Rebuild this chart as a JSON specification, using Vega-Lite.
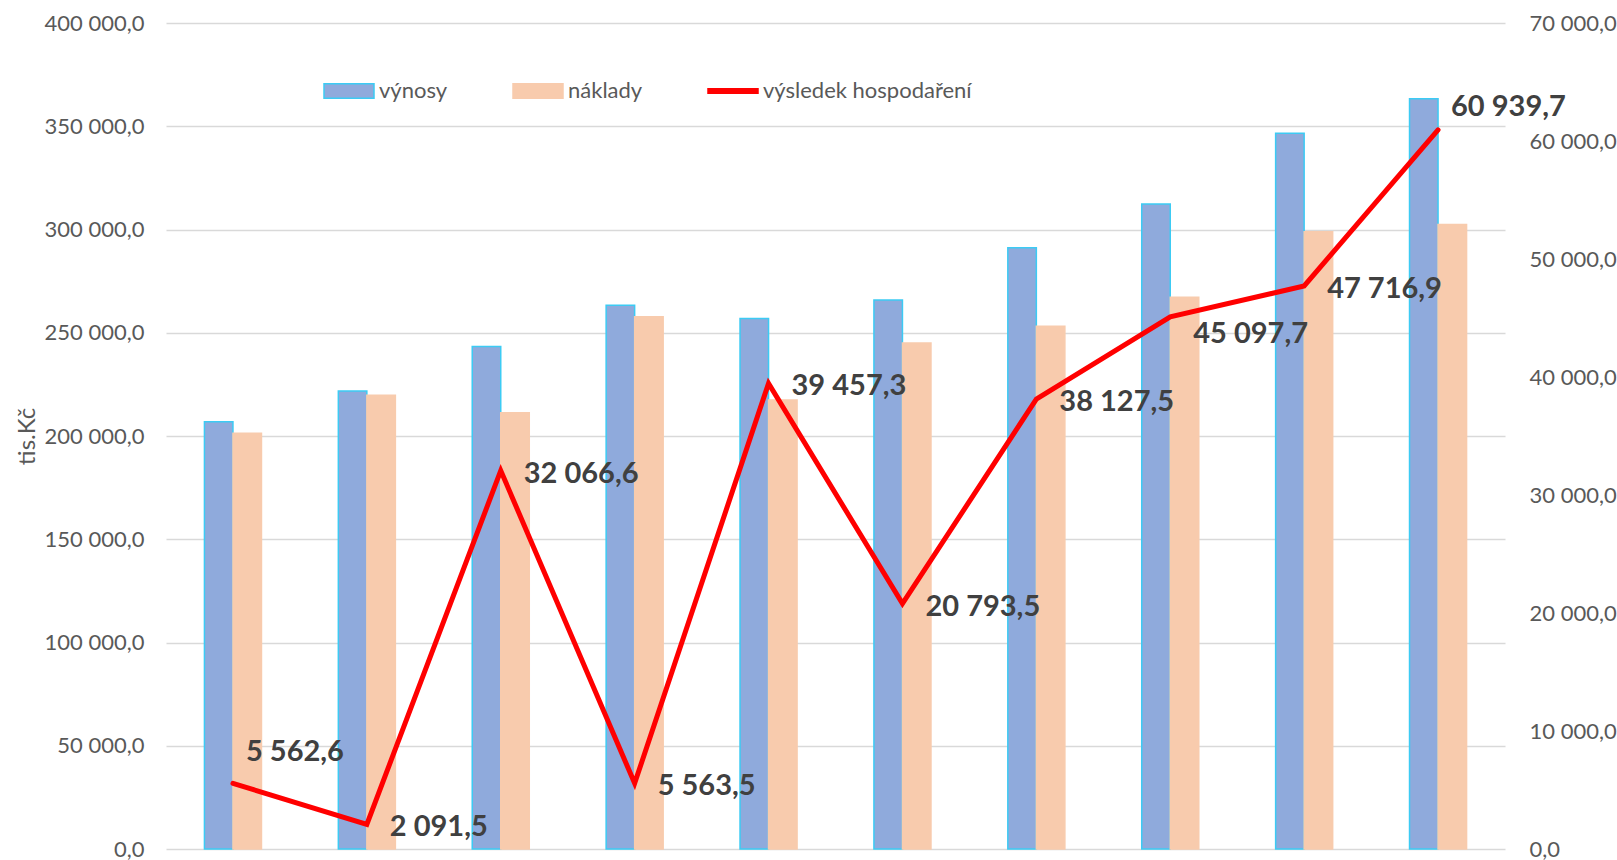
{
  "$schema": "https://vega.github.io/schema/vega-lite/v6.json",
  "width": 1339,
  "height": 826,
  "autosize": {"type": "none"},
  "padding": {"left": 166, "top": 23, "right": 112, "bottom": 11},
  "background": "white",
  "config": {
    "view": {"stroke": null},
    "font": "Lato",
    "locale": {"number": {"decimal": ",", "thousands": "\u00a0", "grouping": [3], "currency": ["", ""]}}
  },
  "data": {
    "values": [
      {"rok": 1, "vynosy": 206900, "naklady": 201300, "vysledek": 5562.6},
      {"rok": 2, "vynosy": 221800, "naklady": 219700, "vysledek": 2091.5},
      {"rok": 3, "vynosy": 243300, "naklady": 211200, "vysledek": 32066.6},
      {"rok": 4, "vynosy": 263300, "naklady": 257700, "vysledek": 5563.5},
      {"rok": 5, "vynosy": 256900, "naklady": 217450, "vysledek": 39457.3},
      {"rok": 6, "vynosy": 265800, "naklady": 245000, "vysledek": 20793.5},
      {"rok": 7, "vynosy": 291200, "naklady": 253100, "vysledek": 38127.5},
      {"rok": 8, "vynosy": 312300, "naklady": 267200, "vysledek": 45097.7},
      {"rok": 9, "vynosy": 346600, "naklady": 298900, "vysledek": 47716.9},
      {"rok": 10, "vynosy": 363300, "naklady": 302400, "vysledek": 60939.7}
    ]
  },
  "encoding": {
    "x": {"field": "rok", "type": "ordinal", "axis": null, "scale": {"paddingInner": 0.574, "paddingOuter": 0.287}}
  },
  "layer": [
    {
      "layer": [
        {
          "transform": [{"fold": ["vynosy", "naklady"], "as": ["series", "value"]}],
          "mark": {"type": "bar", "strokeWidth": 1.5},
          "encoding": {
            "xOffset": {"field": "series", "type": "nominal", "scale": {"domain": ["vynosy", "naklady"], "paddingInner": 0, "paddingOuter": 0}},
            "y": {
              "field": "value", "type": "quantitative",
              "scale": {"domain": [0, 400000], "nice": false},
              "axis": {
                "values": [0, 50000, 100000, 150000, 200000, 250000, 300000, 350000, 400000],
                "format": ",.1f",
                "labelFont": "Lato", "labelFontSize": 22, "labelColor": "#595959",
                "labelPadding": 22,
                "grid": true, "gridColor": "#D9D9D9", "gridWidth": 1.6,
                "domain": false, "ticks": false,
                "title": "tis.Kč", "titleFont": "Lato", "titleFontSize": 24, "titleFontWeight": "normal", "titleColor": "#595959",
                "titlePadding": 5
              }
            },
            "fill": {"condition": {"test": "datum.series === 'vynosy'", "value": "#8FAADC"}, "value": "#F8CBAD"},
            "stroke": {"condition": {"test": "datum.series === 'vynosy'", "value": "#3CCBF4"}, "value": "#F8CBAD"}
          }
        },
        {
          "transform": [{"fold": ["vynosy", "naklady", "vysledek"], "as": ["series", "value"]}],
          "mark": {"type": "point", "filled": true, "size": 0, "strokeWidth": 0, "opacity": 1},
          "encoding": {
            "y": {"field": "value", "type": "quantitative"},
            "fill": {
              "field": "series", "type": "nominal",
              "scale": {"domain": ["vynosy", "naklady", "vysledek"], "range": ["#8FAADC", "#F8CBAD", "#FF0000"]},
              "legend": {
                "orient": "none", "legendX": 157, "legendY": 42, "direction": "horizontal",
                "title": null,
                "labelExpr": "{'vynosy':'výnosy','naklady':'náklady','vysledek':'výsledek hospodaření'}[datum.label]",
                "labelFont": "Lato", "labelFontSize": 22, "labelColor": "#595959", "labelLimit": 400,
                "labelOffset": 4, "columnPadding": 62,
                "symbolSize": 2500, "symbolStrokeWidth": 1.5, "symbolOpacity": 1
              }
            },
            "stroke": {
              "field": "series", "type": "nominal",
              "scale": {"domain": ["vynosy", "naklady", "vysledek"], "range": ["#3CCBF4", "#F8CBAD", "#FF0000"]}
            },
            "shape": {
              "field": "series", "type": "nominal",
              "scale": {"domain": ["vynosy", "naklady", "vysledek"], "range": ["M-1,-0.29H1V0.29H-1Z", "M-1,-0.29H1V0.29H-1Z", "M-1,-0.09H1V0.09H-1Z"]}
            }
          }
        }
      ]
    },
    {
      "layer": [
        {
          "mark": {"type": "line", "color": "#FF0000", "strokeWidth": 5, "strokeCap": "round"},
          "encoding": {
            "y": {
              "field": "vysledek", "type": "quantitative",
              "scale": {"domain": [0, 70000], "nice": false},
              "axis": {
                "orient": "right",
                "values": [0, 10000, 20000, 30000, 40000, 50000, 60000, 70000],
                "format": ",.1f",
                "labelFont": "Lato", "labelFontSize": 22, "labelColor": "#595959",
                "labelPadding": 24,
                "grid": false, "domain": false, "ticks": false, "title": null
              }
            }
          }
        },
        {
          "transform": [{"filter": "datum.rok !== 1 && datum.rok !== 8 && datum.rok !== 10"}],
          "mark": {"type": "text", "align": "left", "baseline": "middle", "dx": 23, "dy": 3, "font": "Lato", "fontSize": 29, "fontWeight": "bold", "color": "#404040"},
          "encoding": {
            "y": {"field": "vysledek", "type": "quantitative"},
            "text": {"field": "vysledek", "type": "quantitative", "format": ",.1f"}
          }
        },
        {
          "transform": [{"filter": "datum.rok === 1"}],
          "mark": {"type": "text", "align": "left", "baseline": "middle", "dx": 13, "dy": -31, "font": "Lato", "fontSize": 29, "fontWeight": "bold", "color": "#404040"},
          "encoding": {
            "y": {"field": "vysledek", "type": "quantitative"},
            "text": {"field": "vysledek", "type": "quantitative", "format": ",.1f"}
          }
        },
        {
          "transform": [{"filter": "datum.rok === 8"}],
          "mark": {"type": "text", "align": "left", "baseline": "middle", "dx": 23, "dy": 17, "font": "Lato", "fontSize": 29, "fontWeight": "bold", "color": "#404040"},
          "encoding": {
            "y": {"field": "vysledek", "type": "quantitative"},
            "text": {"field": "vysledek", "type": "quantitative", "format": ",.1f"}
          }
        },
        {
          "transform": [{"filter": "datum.rok === 10"}],
          "mark": {"type": "text", "align": "left", "baseline": "middle", "dx": 13, "dy": -23, "font": "Lato", "fontSize": 29, "fontWeight": "bold", "color": "#404040"},
          "encoding": {
            "y": {"field": "vysledek", "type": "quantitative"},
            "text": {"field": "vysledek", "type": "quantitative", "format": ",.1f"}
          }
        }
      ]
    }
  ],
  "resolve": {"scale": {"y": "independent"}}
}
